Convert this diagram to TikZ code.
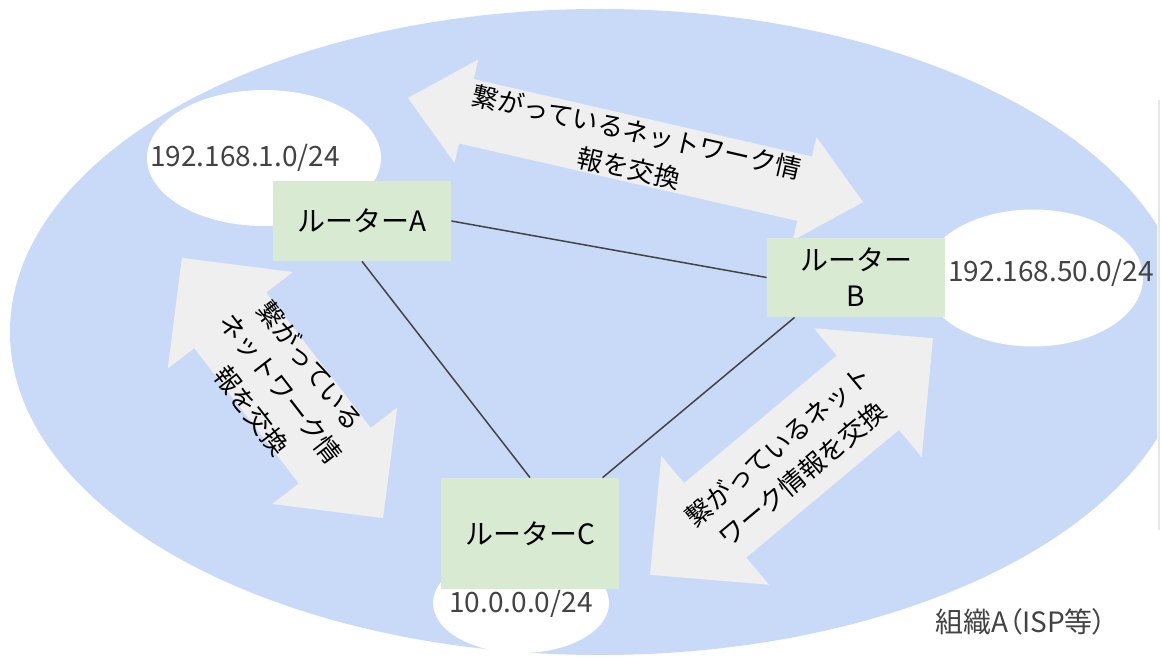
\documentclass[tikz,border=0pt]{standalone}
\usepackage{fontspec}
\setmainfont{Noto Sans CJK JP}
\newfontfamily\paltfont[RawFeature=+palt]{Noto Sans CJK JP}
\usetikzlibrary{shapes.geometric}
\definecolor{orgblue}{HTML}{C9DAF8}
\definecolor{routergreen}{HTML}{D9EAD3}
\definecolor{arrowgray}{HTML}{EFEFEF}
\definecolor{labelgray}{HTML}{434343}
\definecolor{linegray}{HTML}{434343}
\definecolor{edgegray}{HTML}{E6E6E6}
% double-headed block arrow: centre x, centre y, angle, length, head length, head width, shaft width
\newcommand\dblarr[7]{%
  \fill[bigarrow, shift={(#1,#2)}, rotate=#3]
    ({-#4/2},0) -- ({-#4/2+#5},{#6/2}) -- ({-#4/2+#5},{#7/2}) -- ({#4/2-#5},{#7/2})
    -- ({#4/2-#5},{#6/2}) -- ({#4/2},0) -- ({#4/2-#5},{-#6/2}) -- ({#4/2-#5},{-#7/2})
    -- ({-#4/2+#5},{-#7/2}) -- ({-#4/2+#5},{-#6/2}) -- cycle;}
\begin{document}
\begin{tikzpicture}[x=0.5pt,y=-0.5pt,
  router/.style={fill=routergreen, minimum width=89pt, inner sep=0pt,
    font=\fontsize{14pt}{18pt}\selectfont, align=center},
  subnet/.style={ellipse, fill=white, inner sep=0pt},
  iplabel/.style={text=labelgray, font=\fontsize{14pt}{17pt}\selectfont, inner sep=0pt},
  arrowtext/.style={font=\fontsize{13pt}{18.5pt}\selectfont, align=center, inner sep=0pt},
  link/.style={draw=linegray, line width=0.75pt},
  bigarrow/.style={fill=arrowgray}]
\useasboundingbox (0,0) rectangle (1161,657);
\fill[white] (0,0) rectangle (1161,657);
% organisation area
\begin{scope}
  \clip (0,0) rectangle (1157,657);
  \fill[orgblue] (600,332) ellipse [x radius=295pt, y radius=161.5pt];
\end{scope}
\draw[edgegray, line width=1pt] (1158.5,100) -- (1158.5,530);
% subnets
\node[subnet, minimum width=117pt, minimum height=68pt] (netA) at (264,158) {};
\node[subnet, minimum width=110pt, minimum height=68.5pt] (netB) at (1033,278) {};
\node[subnet, minimum width=88pt, minimum height=50pt] (netC) at (521,603) {};
% exchange arrows
\dblarr{635.5}{150}{-12.9}{467}{60}{106}{66}
\dblarr{282.5}{388}{-52.3}{329}{79}{158}{91}
\dblarr{791.5}{456.5}{39.9}{369}{85}{168}{97}
\node[arrowtext, rotate=-12.9] (txtAB) at (633,150) {繋がっているネットワーク情\\報を交換};
\node[arrowtext, rotate=-52.3] (txtAC) at (281,388) {繋がっている\\ネットワーク情\\報を交換};
\node[arrowtext, rotate=39.9] (txtBC) at (790,460) {繋がっているネット\\ワーク情報を交換};
% routers
\node[router, minimum height=40pt] (A) at (362,221) {ルーターA};
\node[router, minimum height=39.5pt] (B) at (856,277.5) {ルーター\\B};
\node[router, minimum height=55.5pt] (C) at (530,533.5) {ルーターC};
% links
\draw[link] (A.east) -- (B.west);
\draw[link] (A.south) -- (C.north);
\draw[link] ([xshift=14pt]B.south west) -- ([xshift=81pt]C.north west);
% labels
\node[iplabel] (ipA) at (245,158) {192.168.1.0/24};
\node[iplabel] (ipB) at (1051,273) {192.168.50.0/24};
\node[iplabel] (ipC) at (521,604) {10.0.0.0/24};
\node[iplabel, font=\paltfont\fontsize{14pt}{17pt}\selectfont] (org) at (1021,622) {組織A（ISP等）};
\end{tikzpicture}
\end{document}
